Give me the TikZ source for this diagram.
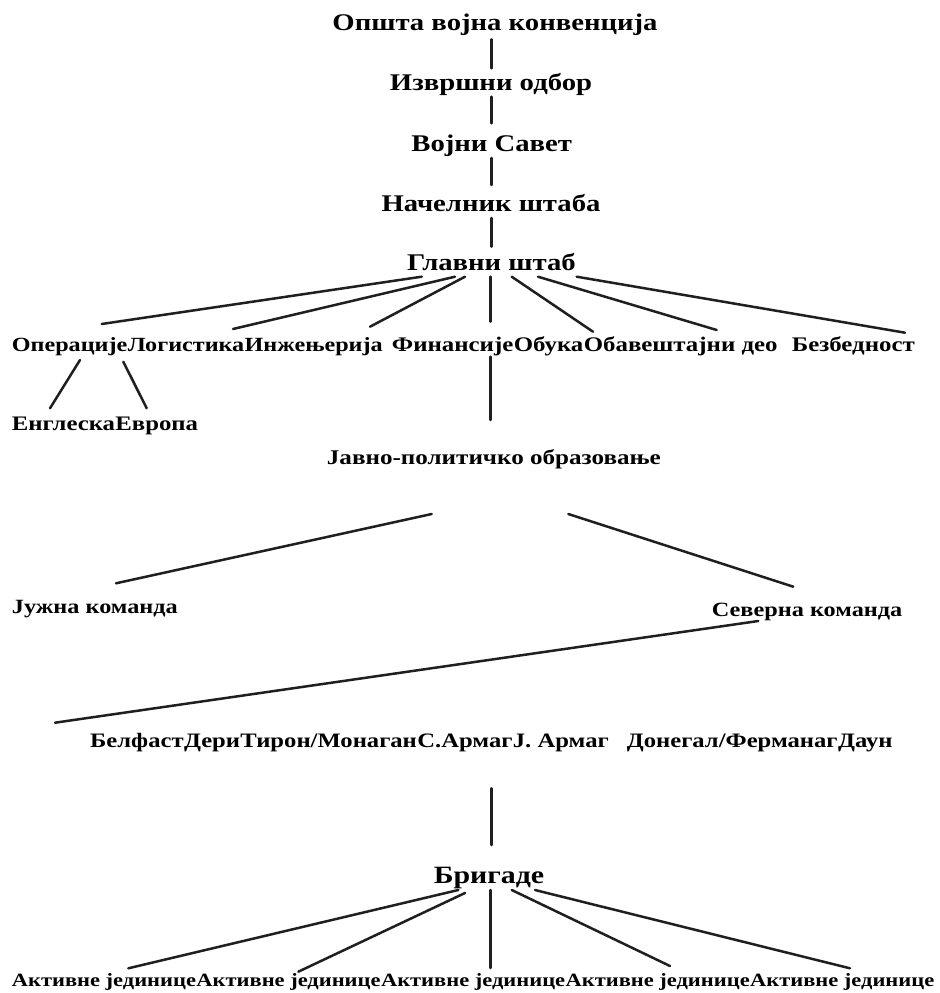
\documentclass[tikz,border=0pt]{standalone}
\usepackage{fontspec}
\setmainfont[FakeStretch=1.2]{Liberation Serif}
\begin{document}
\begin{tikzpicture}[x=1bp,y=-1bp,
  lbl/.style={inner sep=0pt, anchor=base west, font=\bfseries\fontsize{#1}{#1}\selectfont},
  lbl/.default=20.8,
  conn/.style={line width=2.5bp, line cap=round, black!88}]
\useasboundingbox (0,0) rectangle (940,993);
% level 0-4
\node[lbl=24, anchor=base] (ovk) at (495,30) {Општа војна конвенција};
\node[lbl=24, anchor=base] (io) at (491,90) {Извршни одбор};
\node[lbl=24, anchor=base] (vs) at (491.7,151.5) {Војни Савет};
\node[lbl=24, anchor=base] (ns) at (491,211.5) {Начелник штаба};
\node[lbl=24, anchor=base] (gs) at (491.5,270) {Главни штаб};
% level 5
\node[lbl=20.2] (op) at (11.7,351) {Операције};
\node[lbl=20.2] (lo) at (op.base east) {Логистика};
\node[lbl=20.2] (in) at (lo.base east) {Инжењерија};
\node[lbl] (fi) at (391.7,351) {Финансије};
\node[lbl] (ob) at (fi.base east) {Обука};
\node[lbl] (od) at (ob.base east) {Обавештајни део};
\node[lbl] (bz) at (791.7,351) {Безбедност};
% level 6
\node[lbl=20.7] (en) at (11.7,430) {Енглеска};
\node[lbl=20.7] (ev) at (en.base east) {Европа};
\node[lbl=21] (jp) at (326.7,464) {Јавно-политичко образовање};
% commands
\node[lbl=20.3] (ju) at (11.7,613) {Јужна команда};
\node[lbl=20.3] (se) at (711.7,616) {Северна команда};
% areas
\node[lbl=20.6] (be) at (90,747) {Белфаст};
\node[lbl=20.6] (de) at (be.base east) {Дери};
\node[lbl=20.6] (ti) at (de.base east) {Тирон/Монаган};
\node[lbl=20.6] (sa) at (ti.base east) {С.Армаг};
\node[lbl=20.6] (ja) at (sa.base east) {Ј. Армаг};
\node[lbl=20.6] (do) at (626.7,747) {Донегал/Ферманаг};
\node[lbl=20.6] (da) at (do.base east) {Даун};
\node[lbl=25, anchor=base] (br) at (489,883) {Бригаде};
% active units
\node[lbl=18.8] (a1) at (11.7,986.7) {Активне јединице};
\node[lbl=18.8] (a2) at (a1.base east) {Активне јединице};
\node[lbl=18.8] (a3) at (a2.base east) {Активне јединице};
\node[lbl=18.8] (a4) at (a3.base east) {Активне јединице};
\node[lbl=18.8] (a5) at (a4.base east) {Активне јединице};
% connector end points
\coordinate (ovk-b) at (491.7,39.3);  \coordinate (io-t) at (491.7,68.3);
\coordinate (io-b) at (491.7,96.7);   \coordinate (vs-t) at (491.7,123.3);
\coordinate (vs-b) at (491.7,158);    \coordinate (ns-t) at (491.7,185);
\coordinate (ns-b) at (491.7,218);    \coordinate (gs-t) at (491.7,246.7);
\coordinate (gs-1) at (421.7,276.7);  \coordinate (op-t) at (101.7,324);
\coordinate (gs-2) at (455,276.7);    \coordinate (lo-t) at (233,329);
\coordinate (gs-3) at (465,276.7);    \coordinate (in-t) at (370,326.7);
\coordinate (gs-4) at (490.7,276.7);  \coordinate (fi-t) at (490.7,321.7);
\coordinate (gs-5) at (511.7,276.7);  \coordinate (ob-t) at (593,331.7);
\coordinate (gs-6) at (538,276.7);    \coordinate (od-t) at (716.7,330);
\coordinate (gs-7) at (576.7,276.7);  \coordinate (bz-t) at (905,332.7);
\coordinate (op-1) at (80,360);       \coordinate (en-t) at (50,408.3);
\coordinate (op-2) at (123.3,361.7);  \coordinate (ev-t) at (146.7,408.3);
\coordinate (fi-b) at (490.7,356.7);  \coordinate (jp-t) at (490.7,420);
\coordinate (jp-1) at (431.7,514);    \coordinate (ju-t) at (116,583.3);
\coordinate (jp-2) at (568.3,514);    \coordinate (se-t) at (793.3,586.7);
\coordinate (se-b) at (758.3,621);    \coordinate (be-t) at (55,722.7);
\coordinate (sa-b) at (491.7,788.3);  \coordinate (br-t) at (491.7,845);
\coordinate (br-1) at (458.3,890);    \coordinate (a1-t) at (128.3,968.3);
\coordinate (br-2) at (465,893);      \coordinate (a2-t) at (298.3,971.7);
\coordinate (br-3) at (490.7,890);    \coordinate (a3-t) at (490.7,968);
\coordinate (br-4) at (511.7,890);    \coordinate (a4-t) at (670,966);
\coordinate (br-5) at (535,890);      \coordinate (a5-t) at (850,968.3);
% connectors
\draw[conn] (ovk-b) -- (io-t);
\draw[conn] (io-b) -- (vs-t);
\draw[conn] (vs-b) -- (ns-t);
\draw[conn] (ns-b) -- (gs-t);
\draw[conn] (gs-1) -- (op-t);
\draw[conn] (gs-2) -- (lo-t);
\draw[conn] (gs-3) -- (in-t);
\draw[conn] (gs-4) -- (fi-t);
\draw[conn] (gs-5) -- (ob-t);
\draw[conn] (gs-6) -- (od-t);
\draw[conn] (gs-7) -- (bz-t);
\draw[conn] (op-1) -- (en-t);
\draw[conn] (op-2) -- (ev-t);
\draw[conn] (fi-b) -- (jp-t);
\draw[conn] (jp-1) -- (ju-t);
\draw[conn] (jp-2) -- (se-t);
\draw[conn] (se-b) -- (be-t);
\draw[conn] (sa-b) -- (br-t);
\draw[conn] (br-1) -- (a1-t);
\draw[conn] (br-2) -- (a2-t);
\draw[conn] (br-3) -- (a3-t);
\draw[conn] (br-4) -- (a4-t);
\draw[conn] (br-5) -- (a5-t);
\end{tikzpicture}
\end{document}
